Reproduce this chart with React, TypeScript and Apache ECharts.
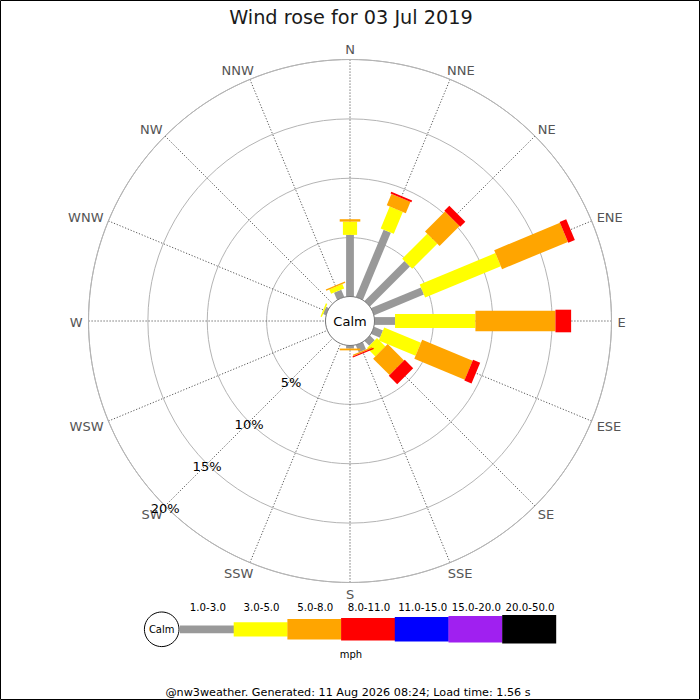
import React, { useEffect, useRef } from 'react';
import * as echarts from 'echarts';

// ---- data ----
const directions = ['N', 'NNE', 'NE', 'ENE', 'E', 'ESE', 'SE', 'SSE', 'S', 'SSW', 'SW', 'WSW', 'W', 'WNW', 'NW', 'NNW'];
const speedClasses = ['1.0-3.0', '3.0-5.0', '5.0-8.0', '8.0-11.0', '11.0-15.0', '15.0-20.0', '20.0-50.0'];
const speedColors = ['#999999', '#ffff00', '#ffa500', '#ff0000', '#0000ff', '#a020f0', '#000000'];

// percentage of time per direction, per speed class (mph)
const pct1to3 = [5.23, 6.17, 4.79, 4.58, 1.77, 0.85, 0.6, 0.7, 0.3, 0, 0, 0, 0, 0.3, 0, 0.7];
const pct3to5 = [1.12, 1.99, 2.99, 6.9, 6.77, 3.35, 1.0, 0, 0, 0, 0, 0, 0, 0.12, 0, 0.4];
const pct5to8 = [0.2, 1.04, 2.38, 6.0, 6.74, 4.6, 1.95, 0.12, 0.15, 0, 0, 0, 0, 0, 0, 0.12];
const pct8to11 = [0, 0.16, 0.6, 0.6, 1.32, 0.65, 1.0, 0.1, 0, 0, 0, 0, 0, 0, 0, 0];
const pct11to15 = [0, 0, 0, 0, 0, 0, 0, 0, 0, 0, 0, 0, 0, 0, 0, 0];
const pct15to20 = [0, 0, 0, 0, 0, 0, 0, 0, 0, 0, 0, 0, 0, 0, 0, 0];
const pct20to50 = [0, 0, 0, 0, 0, 0, 0, 0, 0, 0, 0, 0, 0, 0, 0, 0];

const radiusTicks = [5, 10, 15, 20];
const radiusLabelDirection = 'SW';
const titleText = 'Wind rose for 03 Jul 2019';
const calmText = 'Calm';
const unitText = 'mph';
const footerText = '@nw3weather. Generated: 11 Aug 2026 08:24; Load time: 1.56 s';

// ---- styles / layout ----
const FONT = '"DejaVu Sans", Verdana, sans-serif';
const barWidths = [7.8, 14.2, 20.6, 22.6, 24.6, 26.6, 28.6];
const CX = 350;
const CY = 321;
const R0 = 24;
const R1 = 261.5;

const classSeries = [pct1to3, pct3to5, pct5to8, pct8to11, pct11to15, pct15to20, pct20to50];

let measureCtx: CanvasRenderingContext2D | null = null;
function textWidth(text: string, size: number): number {
  if (!measureCtx) {
    const c = document.createElement('canvas');
    measureCtx = c.getContext('2d');
  }
  if (!measureCtx) return text.length * size * 0.6;
  measureCtx.font = `${size}px ${FONT}`;
  return measureCtx.measureText(text).width;
}

function buildOption(): any {
  const roseData = directions.map((_, i) => [i, ...classSeries.map((s) => s[i])]);
  const maxR = radiusTicks[radiusTicks.length - 1];
  const swIndex = directions.indexOf(radiusLabelDirection);

  const dirLabelSize = 13;
  const pctLabelSize = 13;

  // legend graphics
  const legendX0 = 180;
  const segW = 53.7;
  const legendY = 629.3;
  const legend: any[] = [];
  legend.push({
    type: 'circle',
    shape: { cx: 161.7, cy: legendY, r: 17.3 },
    style: { fill: '#ffffff', stroke: '#000000', lineWidth: 1 },
    silent: true,
  });
  legend.push({
    type: 'text',
    x: 161.7,
    y: legendY,
    style: { text: calmText, fill: '#000', fontSize: 10, fontFamily: FONT, align: 'center', verticalAlign: 'middle' },
    silent: true,
  });
  speedClasses.forEach((label, k) => {
    const w = barWidths[k];
    legend.push({
      type: 'rect',
      shape: { x: legendX0 + k * segW, y: legendY - w / 2, width: segW + 0.3, height: w },
      style: { fill: speedColors[k] },
      silent: true,
    });
    legend.push({
      type: 'text',
      x: legendX0 + (k + 0.5) * segW + 1,
      y: 607.5,
      style: { text: label, fill: '#000', fontSize: 10.2, fontFamily: FONT, align: 'center', verticalAlign: 'middle' },
      silent: true,
    });
  });
  legend.push({
    type: 'text',
    x: 351,
    y: 654.5,
    style: { text: unitText, fill: '#000', fontSize: 10, fontFamily: FONT, align: 'center', verticalAlign: 'middle' },
    silent: true,
  });

  return {
    animation: false,
    backgroundColor: '#ffffff',
    polar: { center: [CX, CY], radius: [R0, R1] },
    angleAxis: {
      type: 'value',
      min: 0,
      max: directions.length,
      interval: 1,
      startAngle: 90,
      clockwise: true,
      axisLine: { show: true, lineStyle: { color: '#b4b4b4', width: 1 } },
      axisTick: { show: false },
      axisLabel: { show: false },
      splitLine: { show: true, lineStyle: { color: '#444444', width: 0.9, type: [1.2, 1.8] } },
      splitArea: { show: false },
    },
    radiusAxis: {
      type: 'value',
      min: 0,
      max: maxR,
      interval: radiusTicks[0],
      axisLine: { show: false },
      axisTick: { show: false },
      axisLabel: { show: false },
      splitLine: { show: true, lineStyle: { color: '#b4b4b4', width: 1 } },
    },
    graphic: [
      {
        type: 'rect',
        shape: { x: 0.5, y: 0.5, width: 699, height: 699 },
        style: { fill: 'none', stroke: '#000000', lineWidth: 1 },
        silent: true,
      },
      {
        type: 'text',
        x: 351,
        y: 17.5,
        style: { text: titleText, fill: '#1a1a1a', fontSize: 19.3, fontFamily: FONT, align: 'center', verticalAlign: 'middle' },
        silent: true,
      },
      ...legend,
      {
        type: 'text',
        x: 348,
        y: 692,
        style: { text: footerText, fill: '#000', fontSize: 11.2, fontFamily: FONT, align: 'center', verticalAlign: 'middle' },
        silent: true,
      },
    ],
    series: [
      {
        type: 'custom',
        name: 'rose',
        coordinateSystem: 'polar',
        silent: true,
        encode: { angle: 0, radius: 1 },
        data: roseData,
        z: 3,
        renderItem: (params: any, api: any) => {
          const cs = params.coordSys;
          const dir = api.value(0);
          const children: any[] = [];
          let cum = 0;
          for (let k = 0; k < speedClasses.length; k++) {
            const v = Number(api.value(k + 1));
            if (!(v > 0)) continue;
            const a = api.coord([cum, dir]);
            const b = api.coord([cum + v, dir]);
            cum += v;
            const vx = a[0] - cs.cx;
            const vy = a[1] - cs.cy;
            const L = Math.hypot(vx, vy) || 1;
            const ux = vx / L;
            const uy = vy / L;
            const hw = barWidths[k] / 2;
            const px = -uy * hw;
            const py = ux * hw;
            children.push({
              type: 'polygon',
              shape: {
                points: [
                  [a[0] + px, a[1] + py],
                  [b[0] + px, b[1] + py],
                  [b[0] - px, b[1] - py],
                  [a[0] - px, a[1] - py],
                ],
              },
              style: { fill: speedColors[k] },
            });
          }
          return { type: 'group', children };
        },
      },
      {
        type: 'custom',
        name: 'calm',
        coordinateSystem: 'polar',
        silent: true,
        encode: { radius: 0, angle: 1 },
        data: [[0, 0]],
        z: 5,
        renderItem: (params: any) => {
          const cs = params.coordSys;
          return {
            type: 'group',
            children: [
              {
                type: 'circle',
                shape: { cx: cs.cx, cy: cs.cy, r: cs.r0 + 0.5 },
                style: { fill: '#ffffff', stroke: '#777777', lineWidth: 1 },
              },
              {
                type: 'text',
                x: cs.cx,
                y: cs.cy + 0.5,
                style: { text: calmText, fill: '#000', fontSize: 13, fontFamily: FONT, align: 'center', verticalAlign: 'middle' },
              },
            ],
          };
        },
      },
      {
        type: 'custom',
        name: 'dirLabels',
        coordinateSystem: 'polar',
        silent: true,
        encode: { radius: 0, angle: 1 },
        data: directions.map((_, i) => [maxR, i]),
        z: 6,
        renderItem: (params: any, api: any) => {
          const cs = params.coordSys;
          const i = api.value(1);
          const p = api.coord([api.value(0), i]);
          const vx = p[0] - cs.cx;
          const vy = p[1] - cs.cy;
          const L = Math.hypot(vx, vy) || 1;
          const ux = vx / L;
          const uy = vy / L;
          const text = directions[i];
          const hw = textWidth(text, dirLabelSize) / 2;
          const d = L + 6;
          const x = cs.cx + ux * d + Math.sign(ux) * hw * Math.sqrt(Math.abs(ux));
          const y = cs.cy + uy * d + uy * 5 + 1;
          return {
            type: 'text',
            x,
            y,
            style: { text, fill: '#555555', fontSize: dirLabelSize, fontFamily: FONT, align: 'center', verticalAlign: 'middle' },
          };
        },
      },
      {
        type: 'custom',
        name: 'pctLabels',
        coordinateSystem: 'polar',
        silent: true,
        encode: { radius: 0, angle: 1 },
        data: radiusTicks.map((v) => [v, swIndex]),
        z: 6,
        renderItem: (params: any, api: any) => {
          const v = api.value(0);
          const p = api.coord([v, api.value(1)]);
          return {
            type: 'text',
            x: p[0],
            y: p[1] + 2.5,
            style: { text: `${v}%`, fill: '#000000', fontSize: pctLabelSize, fontFamily: FONT, align: 'center', verticalAlign: 'middle' },
          };
        },
      },
    ],
  };
}

export default function App() {
  const ref = useRef<HTMLDivElement>(null);
  useEffect(() => {
    document.body.style.margin = '0';
    if (!ref.current) return;
    const chart = echarts.init(ref.current, null, { renderer: 'svg', width: 700, height: 700 });
    chart.setOption(buildOption());
    return () => {
      chart.dispose();
    };
  }, []);
  return <div ref={ref} style={{ width: 700, height: 700 }} />;
}
